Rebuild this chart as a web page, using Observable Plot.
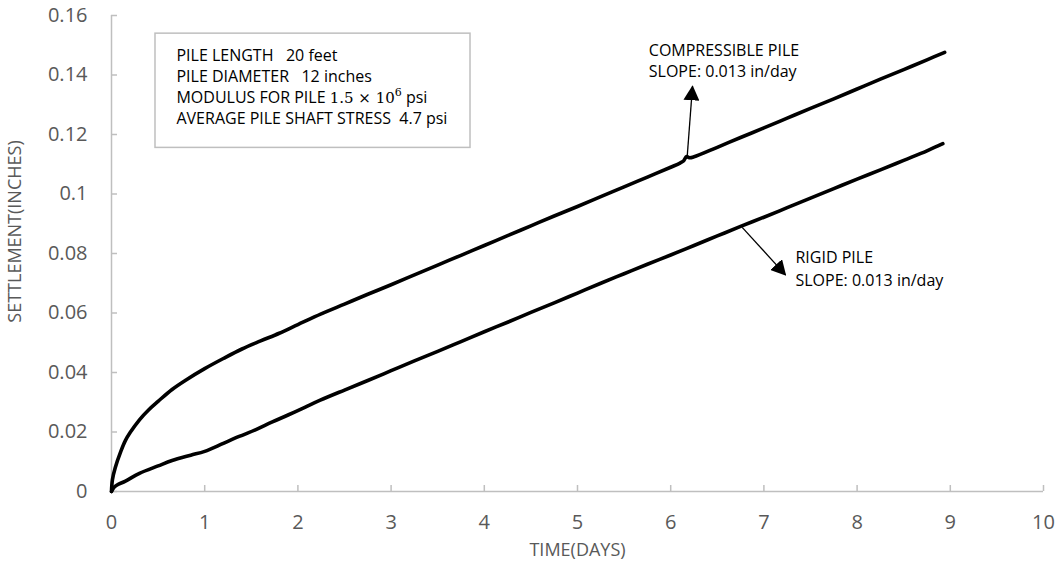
<!DOCTYPE html>
<html>
<head>
<meta charset="utf-8">
<script src="https://cdn.jsdelivr.net/npm/d3@7"></script>
<script src="https://cdn.jsdelivr.net/npm/@observablehq/plot@0.6"></script>
<style>
  html, body { margin: 0; padding: 0; background: #fff; }
  svg text { white-space: pre; }
</style>
</head>
<body>
<div id="chart"></div>
<script>
// Settlement of a compressible pile (days, inches)
const compressibleDays = [0, 0.01, 0.04, 0.1, 0.15, 0.2, 0.3, 0.4, 0.5, 0.65, 0.8, 1.0, 1.2, 1.4, 1.6, 1.8, 2.0, 2.25, 2.5, 2.75, 3.0, 3.25, 3.5, 3.75, 4.0, 4.25, 4.5, 4.75, 5.0, 5.25, 5.5, 5.75, 6.0, 6.1, 6.14, 6.17, 6.2, 6.25, 6.5, 6.75, 7.0, 7.25, 7.5, 7.75, 8.0, 8.25, 8.5, 8.75, 8.94];
const compressibleSettlement = [0, 0.004, 0.008, 0.0135, 0.0172, 0.0198, 0.0241, 0.0275, 0.0303, 0.0343, 0.0375, 0.0413, 0.0447, 0.0479, 0.0506, 0.0532, 0.0561, 0.0597, 0.0630, 0.0663, 0.0695, 0.0728, 0.0761, 0.0794, 0.0827, 0.0860, 0.0893, 0.0926, 0.0958, 0.0991, 0.1024, 0.1057, 0.1090, 0.1104, 0.1112, 0.1126, 0.1122, 0.1125, 0.1157, 0.1190, 0.1222, 0.1255, 0.1288, 0.1320, 0.1353, 0.1386, 0.1418, 0.1451, 0.1476];

// Settlement of a rigid pile (days, inches)
const rigidDays = [0, 0.03, 0.06, 0.15, 0.3, 0.5, 0.65, 0.85, 1.0, 1.2, 1.37, 1.55, 1.72, 1.9, 2.08, 2.24, 2.5, 2.75, 3.0, 3.25, 3.5, 3.75, 4.0, 4.25, 4.5, 4.75, 5.0, 5.25, 5.5, 5.75, 6.0, 6.25, 6.5, 6.75, 7.0, 7.25, 7.5, 7.75, 8.0, 8.25, 8.5, 8.75, 8.92];
const rigidSettlement = [0, 0.0015, 0.0022, 0.0035, 0.0061, 0.0086, 0.0104, 0.0122, 0.0135, 0.0162, 0.0185, 0.0208, 0.0233, 0.0258, 0.0284, 0.0307, 0.0341, 0.0373, 0.0406, 0.0439, 0.0471, 0.0504, 0.0537, 0.0569, 0.0602, 0.0634, 0.0667, 0.0700, 0.0732, 0.0764, 0.0795, 0.0827, 0.0859, 0.0891, 0.0922, 0.0954, 0.0986, 0.1018, 0.1050, 0.1081, 0.1113, 0.1145, 0.1169];

// Axes
const xTicks = [0, 1, 2, 3, 4, 5, 6, 7, 8, 9, 10];
const xTickLabels = ["0", "1", "2", "3", "4", "5", "6", "7", "8", "9", "10"];
const yTicks = [0, 0.02, 0.04, 0.06, 0.08, 0.1, 0.12, 0.14, 0.16];
const yTickLabels = ["0", "0.02", "0.04", "0.06", "0.08", "0.1", "0.12", "0.14", "0.16"];
const xTitle = "TIME(DAYS)";
const yTitle = "SETTLEMENT(INCHES)";

// Pile properties box (lines and their baselines, in days / inches)
const infoLines = ["PILE LENGTH   20 feet", "PILE DIAMETER   12 inches", "MODULUS FOR PILE 1.5 × 10⁶ psi", "AVERAGE PILE SHAFT STRESS  4.7 psi"];
const infoLineY = [0.1446, 0.1375, 0.1305, 0.1235];
const infoLineX = 0.697;
const infoBoxX = [0.472, 3.852];
const infoBoxY = [0.1155, 0.1539];

// Callouts: text lines, anchor and arrow (tail on the curve, head at the label)
const compressibleNote = ["COMPRESSIBLE PILE", "SLOPE: 0.013 in/day"];
const compressibleNoteX = 5.765;
const compressibleNoteY = [0.1465, 0.1392];
const compressibleArrow = [6.177, 0.1126, 6.234, 0.1362];

const rigidNote = ["RIGID PILE", "SLOPE: 0.013 in/day"];
const rigidNoteX = 7.339;
const rigidNoteY = [0.0767, 0.0692];
const rigidArrow = [6.767, 0.0888, 7.232, 0.0728];

const compressible = compressibleDays.map((d, i) => ({day: d, settlement: compressibleSettlement[i]}));
const rigid = rigidDays.map((d, i) => ({day: d, settlement: rigidSettlement[i]}));
const arrows = [compressibleArrow, rigidArrow].map(([x1, y1, x2, y2]) => ({x1, y1, x2, y2}));
const notes = [
  ...compressibleNote.map((t, i) => ({t, x: compressibleNoteX, y: compressibleNoteY[i]})),
  ...rigidNote.map((t, i) => ({t, x: rigidNoteX, y: rigidNoteY[i]}))
];
const info = infoLines.map((t, i) => ({t, x: infoLineX, y: infoLineY[i]}));

const axisGray = "#bfbfbf";
const labelGray = "#595959";
const font = "'Open Sans', 'Noto Sans', sans-serif";

const chart = Plot.plot({
  width: 1057,
  height: 569,
  marginLeft: 111,
  marginRight: 14,
  marginTop: 15,
  marginBottom: 78,
  style: {fontFamily: font, background: "#fff", color: labelGray},
  x: {domain: [0, 10]},
  y: {domain: [0, 0.16]},
  marks: [
    // axis lines and inward ticks
    Plot.ruleY([0], {stroke: axisGray, strokeWidth: 1.5}),
    Plot.ruleX([0], {stroke: axisGray, strokeWidth: 1.5}),
    Plot.ruleX(xTicks, {x: (d) => d, y1: () => 0, y2: () => 0, insetTop: -6, stroke: axisGray, strokeWidth: 1.5}),
    Plot.ruleY(yTicks, {y: (d) => d, x1: () => 0, x2: () => 0, insetRight: -6, stroke: axisGray, strokeWidth: 1.5}),
    Plot.axisX({ticks: xTicks, tickFormat: (d) => xTickLabels[xTicks.indexOf(d)], tickSize: 0, tickPadding: 23, fontSize: 20, label: null}),
    Plot.axisY({ticks: yTicks, tickFormat: (d) => yTickLabels[yTicks.indexOf(d)], tickSize: 0, tickPadding: 24, fontSize: 20, label: null}),
    Plot.text([xTitle], {frameAnchor: "bottom", dy: 59, lineAnchor: "middle", fontSize: 18, fill: labelGray}),
    Plot.text([yTitle], {frameAnchor: "left", textAnchor: "middle", dx: -96, dy: -22, rotate: -90, lineAnchor: "middle", fontSize: 18, fill: labelGray}),
    // pile properties box
    Plot.rect([0], {x1: () => infoBoxX[0], x2: () => infoBoxX[1], y1: () => infoBoxY[0], y2: () => infoBoxY[1], fill: "white", stroke: axisGray, strokeWidth: 1.5}),
    Plot.text(info, {x: "x", y: "y", text: "t", textAnchor: "start", lineAnchor: "bottom", fontSize: 16, fill: "#000"}),
    // settlement curves
    Plot.line(compressible, {x: "day", y: "settlement", stroke: "#000", strokeWidth: 3.6, curve: "catmull-rom"}),
    Plot.line(rigid, {x: "day", y: "settlement", stroke: "#000", strokeWidth: 3.6, curve: "catmull-rom"}),
    // callouts
    Plot.link(arrows, {x1: "x1", y1: "y1", x2: "x2", y2: "y2", stroke: "#000", strokeWidth: 1.3}),
    Plot.text(notes, {x: "x", y: "y", text: "t", textAnchor: "start", lineAnchor: "bottom", fontSize: 16, fill: "#000"})
  ]
});

const svg = d3.select(chart);
// filled triangular arrowheads for the callout links
svg.insert("defs", ":first-child")
  .append("marker")
  .attr("id", "callout-head")
  .attr("viewBox", "0 0 15 16")
  .attr("refX", 14)
  .attr("refY", 8)
  .attr("markerWidth", 15)
  .attr("markerHeight", 16)
  .attr("markerUnits", "userSpaceOnUse")
  .attr("orient", "auto")
  .append("path")
  .attr("d", "M0,0L15,8L0,16Z")
  .attr("fill", "#000");
svg.selectAll('g[aria-label="link"] path').attr("marker-end", "url(#callout-head)");

// modulus written with a math-style serif number and superscript exponent
svg.selectAll("text").filter(function () { return this.textContent.includes("×"); }).each(function () {
  const t = d3.select(this);
  t.text(null);
  t.append("tspan").text("MODULUS FOR PILE ");
  t.append("tspan").attr("font-family", "'DejaVu Serif', serif").attr("font-size", 15).text("1.5 × 10");
  t.append("tspan").attr("font-family", "'DejaVu Serif', serif").attr("font-size", 11).attr("dy", -7).text("6");
  t.append("tspan").attr("dy", 7).text(" psi");
});

document.getElementById("chart").appendChild(chart);
</script>
</body>
</html>
